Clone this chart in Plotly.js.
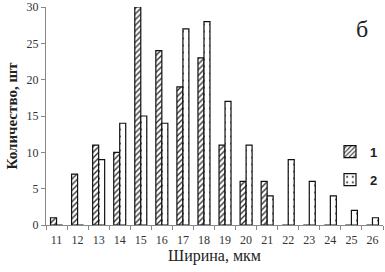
<!DOCTYPE html>
<html><head><meta charset="utf-8">
<script src="https://cdn.plot.ly/plotly-3.0.1.min.js"></script>
<style>body{margin:0;background:#fff}#c{width:385px;height:272px}</style>
</head><body><div id="c"></div>
<script>
const categories = ['11','12','13','14','15','16','17','18','19','20','21','22','23','24','25','26'];
const series1 = [1,7,11,10,30,24,19,23,11,6,6,0,0,0,0,0];
const series2 = [0,0,9,14,15,14,27,28,17,11,4,9,6,4,2,1];
const seriesNames = ['1','2'];

const traces = [
  {type:'bar', x:categories, y:series1, name:seriesNames[0], legendgroup:'a',
   marker:{color:'#fff', line:{color:'#111', width:1.2},
     pattern:{shape:'/', fgcolor:'#333', bgcolor:'#fff', size:4, solidity:0.35}}},
  {type:'bar', x:categories, y:series2, name:seriesNames[1], legendgroup:'b',
   marker:{color:'#fff', line:{color:'#111', width:1.2},
     pattern:{shape:'.', fgcolor:'#555', bgcolor:'#fff', size:7, solidity:0.12}}}
];

const layout = {
  width:385, height:272,
  margin:{l:46, r:2, t:7, b:47},
  paper_bgcolor:'#fff', plot_bgcolor:'#fff',
  barmode:'group', bargap:0.43, bargroupgap:0,
  font:{family:'Liberation Serif, serif', color:'#222'},
  xaxis:{type:'category', showline:true, linecolor:'#888', linewidth:1,
    ticks:'outside', ticklen:4, tickcolor:'#888', tickson:'boundaries', tickangle:0,
    ticklabelstandoff:4,
    tickfont:{size:12, family:'Liberation Serif', color:'#333'},
    title:{text:'Ширина, мкм', font:{size:16, family:'Liberation Serif', color:'#222'}, standoff:3},
    showgrid:false, zeroline:false, fixedrange:true, automargin:false},
  yaxis:{range:[0,30], showline:true, linecolor:'#888', linewidth:1,
    ticks:'outside', ticklen:4, tickcolor:'#888', dtick:5,
    tickfont:{size:12, family:'Liberation Serif', color:'#333'},
    title:{text:'<b>Количество, шт</b>', font:{size:15, family:'Liberation Serif', color:'#222'}, standoff:5},
    showgrid:false, zeroline:false, fixedrange:true, automargin:false},
  showlegend:true,
  legend:{x:1, y:0.405, xanchor:'right', yanchor:'top', tracegroupgap:8,
    font:{size:13, family:'Liberation Sans', color:'#222', weight:'bold'},
    bgcolor:'rgba(0,0,0,0)', itemwidth:30},
  annotations:[{text:'б', xref:'paper', yref:'paper', x:0.96, y:0.97, showarrow:false,
    font:{size:24, family:'Liberation Serif', color:'#222'}}]
};
Plotly.newPlot('c', traces, layout, {displayModeBar:false, staticPlot:true});
</script></body></html>
